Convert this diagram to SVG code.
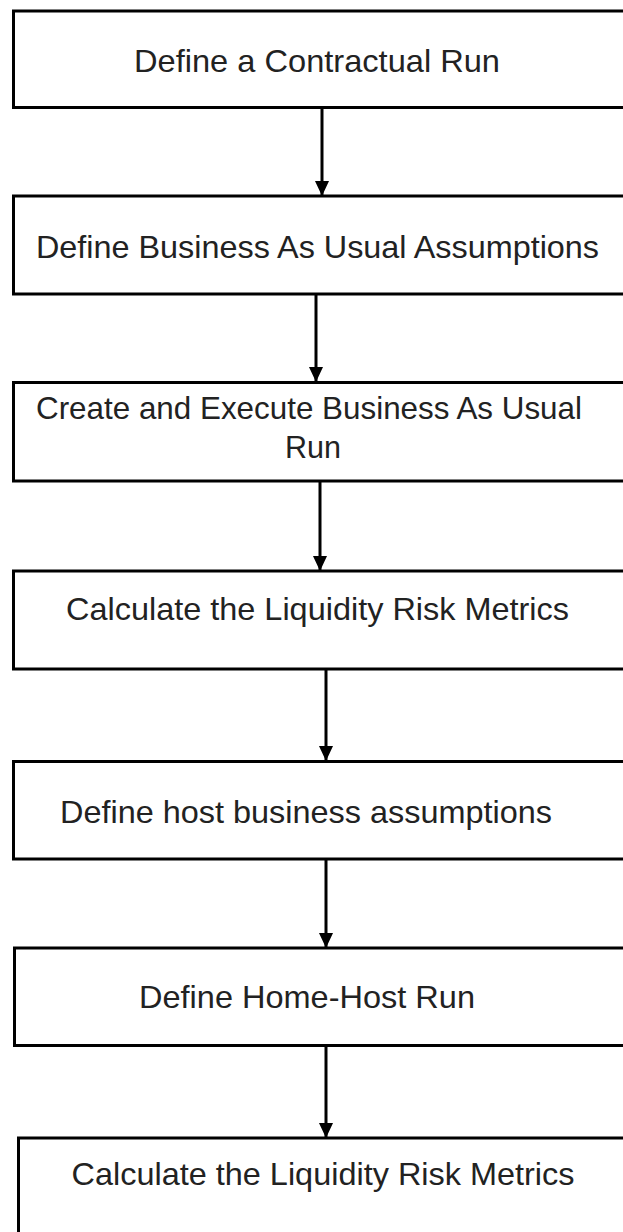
<svg xmlns="http://www.w3.org/2000/svg" width="623" height="1232" viewBox="0 0 623 1232">
<defs>
<style>
.box{fill:#fff;stroke:#000;stroke-width:3}
.lbl{font-family:"Liberation Sans",Arial,sans-serif;font-size:32px;fill:#222}
.conn{stroke:#000;stroke-width:3;fill:none;marker-end:url(#ah)}
</style>
<marker id="ah" markerUnits="userSpaceOnUse" markerWidth="15" markerHeight="14" viewBox="0 0 15 14" refX="14" refY="7" orient="auto">
<path d="M0,0 L15,7 L0,14 Z" fill="#000"/>
</marker>
</defs>
<rect width="623" height="1232" fill="#fff"/>
<g id="connectors">
<line class="conn" x1="322" y1="108" x2="322" y2="195"/>
<line class="conn" x1="316" y1="295" x2="316" y2="381"/>
<line class="conn" x1="320" y1="482" x2="320" y2="570"/>
<line class="conn" x1="326" y1="670" x2="326" y2="760"/>
<line class="conn" x1="326" y1="860" x2="326" y2="947"/>
<line class="conn" x1="326" y1="1047" x2="326" y2="1137"/>
</g>
<g id="n1"><rect class="box" x="13.5" y="11" width="630" height="96.5"/><text class="lbl" x="134" y="72" textLength="366" lengthAdjust="spacingAndGlyphs">Define a Contractual Run</text></g>
<g id="n2"><rect class="box" x="13.5" y="196" width="630" height="98"/><text class="lbl" x="36" y="258" textLength="563" lengthAdjust="spacingAndGlyphs">Define Business As Usual Assumptions</text></g>
<g id="n3"><rect class="box" x="13.5" y="382.5" width="630" height="98.5"/><text class="lbl" x="36" y="419" textLength="546" lengthAdjust="spacingAndGlyphs">Create and Execute Business As Usual</text><text class="lbl" x="285" y="458" textLength="56" lengthAdjust="spacingAndGlyphs">Run</text></g>
<g id="n4"><rect class="box" x="13.5" y="571" width="630" height="98"/><text class="lbl" x="66" y="620" textLength="503" lengthAdjust="spacingAndGlyphs">Calculate the Liquidity Risk Metrics</text></g>
<g id="n5"><rect class="box" x="13.5" y="761.5" width="630" height="97.5"/><text class="lbl" x="60" y="823" textLength="492" lengthAdjust="spacingAndGlyphs">Define host business assumptions</text></g>
<g id="n6"><rect class="box" x="14.5" y="948" width="630" height="97.5"/><text class="lbl" x="139" y="1008" textLength="336" lengthAdjust="spacingAndGlyphs">Define Home-Host Run</text></g>
<g id="n7"><rect class="box" x="18.5" y="1138" width="630" height="120"/><text class="lbl" x="71.5" y="1185" textLength="503" lengthAdjust="spacingAndGlyphs">Calculate the Liquidity Risk Metrics</text></g>
</svg>
